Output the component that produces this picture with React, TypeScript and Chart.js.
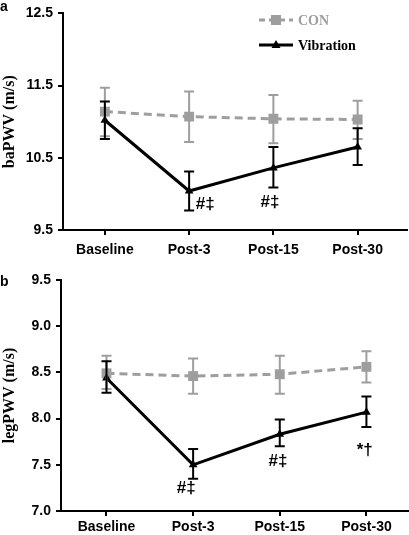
import React, { useEffect, useRef } from "react";
import { Chart, registerables } from "chart.js";
Chart.register(...registerables);

// ---- data ----
const categories = ["Baseline", "Post-3", "Post-15", "Post-30"];

const baCon = [11.14, 11.07, 11.04, 11.03];
const baConHi = [11.47, 11.42, 11.37, 11.29];
const baConLo = [10.8, 10.72, 10.7, 10.76];
const baVib = [11.02, 10.04, 10.36, 10.65];
const baVibHi = [11.28, 10.31, 10.65, 10.91];
const baVibLo = [10.76, 9.77, 10.09, 10.4];
const baTicks = [9.5, 10.5, 11.5, 12.5];
const baNotes = [
  { text: "#‡", x: 1.19, y: 9.85 },
  { text: "#‡", x: 1.96, y: 9.88 },
];

const legCon = [8.49, 8.46, 8.48, 8.56];
const legConHi = [8.68, 8.65, 8.68, 8.73];
const legConLo = [8.32, 8.27, 8.27, 8.39];
const legVib = [8.44, 7.5, 7.83, 8.07];
const legVibHi = [8.62, 7.67, 7.99, 8.24];
const legVibLo = [8.28, 7.35, 7.7, 7.91];
const legTicks = [7.0, 7.5, 8.0, 8.5, 9.0, 9.5];
const legNotes = [
  { text: "#‡", x: 0.92, y: 7.25 },
  { text: "#‡", x: 1.98, y: 7.54 },
  { text: "*†", x: 2.98, y: 7.66 },
];

const seriesNames = ["CON", "Vibration"];

// ---- styles ----
const GREY = "#9e9e9e";
const BLACK = "#000000";
const SANS = '"Liberation Sans", Arial, sans-serif';
const SERIF = '"Liberation Serif", "Times New Roman", serif';

type PanelCfg = {
  letter: string;
  title: string;
  con: number[];
  conHi: number[];
  conLo: number[];
  vib: number[];
  vibHi: number[];
  vibLo: number[];
  yTicks: number[];
  notes: { text: string; x: number; y: number }[];
  width: number;
  height: number;
  padTop: number;
  padRight: number;
  yAxisW: number;
  xAxisH: number;
  xMin: number;
  xMax: number;
  xPad: number;
  letterY: number;
  legend: boolean;
};

function makePlugin(p: PanelCfg) {
  return {
    id: "panelExtras" + p.letter,
    afterDatasetsDraw(chart: any) {
      const { ctx, scales } = chart;
      const xs = scales.x;
      const ys = scales.y;
      const bars = [
        { hi: p.conHi, lo: p.conLo, color: GREY },
        { hi: p.vibHi, lo: p.vibLo, color: BLACK },
      ];
      ctx.save();
      bars.forEach((b) => {
        ctx.strokeStyle = b.color;
        ctx.lineWidth = 2;
        b.hi.forEach((hv, i) => {
          const px = xs.getPixelForValue(i);
          const a = ys.getPixelForValue(hv);
          const c = ys.getPixelForValue(b.lo[i]);
          ctx.beginPath();
          ctx.moveTo(px, a);
          ctx.lineTo(px, c);
          ctx.moveTo(px - 5, a);
          ctx.lineTo(px + 5, a);
          ctx.moveTo(px - 5, c);
          ctx.lineTo(px + 5, c);
          ctx.stroke();
        });
      });
      // annotations
      ctx.fillStyle = BLACK;
      ctx.font = `bold 17px ${SANS}`;
      ctx.textAlign = "center";
      ctx.textBaseline = "middle";
      p.notes.forEach((n) => {
        ctx.fillText(n.text, xs.getPixelForValue(n.x), ys.getPixelForValue(n.y));
      });
      ctx.restore();
    },
    afterDraw(chart: any) {
      const { ctx } = chart;
      ctx.save();
      ctx.fillStyle = BLACK;
      ctx.font = `bold 14px ${SANS}`;
      ctx.textAlign = "left";
      ctx.textBaseline = "alphabetic";
      ctx.fillText(p.letter, 0, p.letterY);
      if (p.legend) {
        const x0 = 259;
        const x1 = 293;
        const rows = [
          { y: 20, color: GREY, dash: [6, 4], style: "rect" },
          { y: 45, color: BLACK, dash: [], style: "triangle" },
        ];
        rows.forEach((r, i) => {
          ctx.strokeStyle = r.color;
          ctx.fillStyle = r.color;
          ctx.lineWidth = 3;
          ctx.setLineDash(r.dash);
          ctx.beginPath();
          ctx.moveTo(x0, r.y);
          ctx.lineTo(x1, r.y);
          ctx.stroke();
          ctx.setLineDash([]);
          const cx = (x0 + x1) / 2;
          if (r.style === "rect") {
            ctx.fillRect(cx - 5, r.y - 5, 10, 10);
          } else {
            ctx.beginPath();
            ctx.moveTo(cx, r.y - 5);
            ctx.lineTo(cx + 4.5, r.y + 3);
            ctx.lineTo(cx - 4.5, r.y + 3);
            ctx.closePath();
            ctx.fill();
          }
          ctx.font = `bold 14px ${SERIF}`;
          ctx.textBaseline = "middle";
          ctx.fillText(seriesNames[i], 298, r.y + 1);
        });
      }
      ctx.restore();
    },
  };
}

function buildConfig(p: PanelCfg): any {
  const tickFont = { family: SANS, size: 14, weight: "bold" as const };
  const grid = {
    drawOnChartArea: false,
    drawTicks: true,
    tickLength: 5,
    color: BLACK,
    lineWidth: 2,
  };
  const border = { display: true, color: BLACK, width: 2 };
  return {
    type: "line",
    data: {
      datasets: [
        {
          label: seriesNames[0],
          data: p.con.map((v, i) => ({ x: i, y: v })),
          borderColor: GREY,
          backgroundColor: GREY,
          borderWidth: 3,
          borderDash: [8, 5],
          pointStyle: "rect",
          pointRadius: 7,
          pointBackgroundColor: GREY,
          pointBorderWidth: 0,
          tension: 0,
          order: 2,
        },
        {
          label: seriesNames[1],
          data: p.vib.map((v, i) => ({ x: i, y: v })),
          borderColor: BLACK,
          backgroundColor: BLACK,
          borderWidth: 3,
          pointStyle: "triangle",
          pointRadius: 5,
          pointBackgroundColor: BLACK,
          pointBorderWidth: 0,
          tension: 0,
          order: 1,
        },
      ],
    },
    options: {
      responsive: false,
      animation: false,
      layout: {
        autoPadding: false,
        padding: { left: 0, top: p.padTop, right: p.padRight, bottom: 0 },
      },
      plugins: { legend: { display: false }, tooltip: { enabled: false } },
      scales: {
        x: {
          type: "linear",
          min: p.xMin,
          max: p.xMax,
          afterBuildTicks: (s: any) => {
            s.ticks = categories.map((_, i) => ({ value: i }));
          },
          afterFit: (s: any) => {
            s.height = p.xAxisH;
          },
          ticks: {
            callback: (v: any) => categories[Math.round(Number(v))] ?? "",
            font: tickFont,
            color: BLACK,
            padding: p.xPad,
            autoSkip: false,
            maxRotation: 0,
          },
          grid,
          border,
        },
        y: {
          type: "linear",
          min: p.yTicks[0],
          max: p.yTicks[p.yTicks.length - 1],
          afterBuildTicks: (s: any) => {
            s.ticks = p.yTicks.map((v) => ({ value: v }));
          },
          afterFit: (s: any) => {
            s.width = p.yAxisW;
          },
          ticks: {
            callback: (v: any) => Number(v).toFixed(1),
            font: tickFont,
            color: BLACK,
            padding: 5,
          },
          title: {
            display: true,
            text: p.title,
            font: { family: SERIF, size: 16, weight: "bold" },
            color: BLACK,
            padding: 0,
          },
          grid,
          border,
        },
      },
    },
    plugins: [makePlugin(p)],
  };
}

const panelA: PanelCfg = {
  letter: "a",
  title: "baPWV (m/s)",
  con: baCon,
  conHi: baConHi,
  conLo: baConLo,
  vib: baVib,
  vibHi: baVibHi,
  vibLo: baVibLo,
  yTicks: baTicks,
  notes: baNotes,
  width: 409,
  height: 265,
  padTop: 7,
  padRight: 2.5,
  yAxisW: 63,
  xAxisH: 35,
  xMin: -0.497,
  xMax: 3.58,
  xPad: 7,
  letterY: 11,
  legend: true,
};

const panelB: PanelCfg = {
  letter: "b",
  title: "legPWV (m/s)",
  con: legCon,
  conHi: legConHi,
  conLo: legConLo,
  vib: legVib,
  vibHi: legVibHi,
  vibLo: legVibLo,
  yTicks: legTicks,
  notes: legNotes,
  width: 409,
  height: 270,
  padTop: 15,
  padRight: 1,
  yAxisW: 61,
  xAxisH: 24,
  xMin: -0.525,
  xMax: 3.48,
  xPad: 3,
  letterY: 21,
  legend: false,
};

function Panel({ cfg, top }: { cfg: PanelCfg; top: number }) {
  const ref = useRef<HTMLCanvasElement>(null);
  useEffect(() => {
    const chart = new Chart(ref.current as HTMLCanvasElement, buildConfig(cfg));
    return () => chart.destroy();
  }, [cfg]);
  return (
    <div style={{ position: "absolute", left: 0, top, width: cfg.width, height: cfg.height }}>
      <canvas ref={ref} width={cfg.width} height={cfg.height} style={{ display: "block" }} />
    </div>
  );
}

export default function App() {
  return (
    <div
      style={{
        position: "fixed",
        left: 0,
        top: 0,
        width: 409,
        height: 535,
        background: "#ffffff",
        overflow: "hidden",
      }}
    >
      <Panel cfg={panelA} top={0} />
      <Panel cfg={panelB} top={265} />
    </div>
  );
}
